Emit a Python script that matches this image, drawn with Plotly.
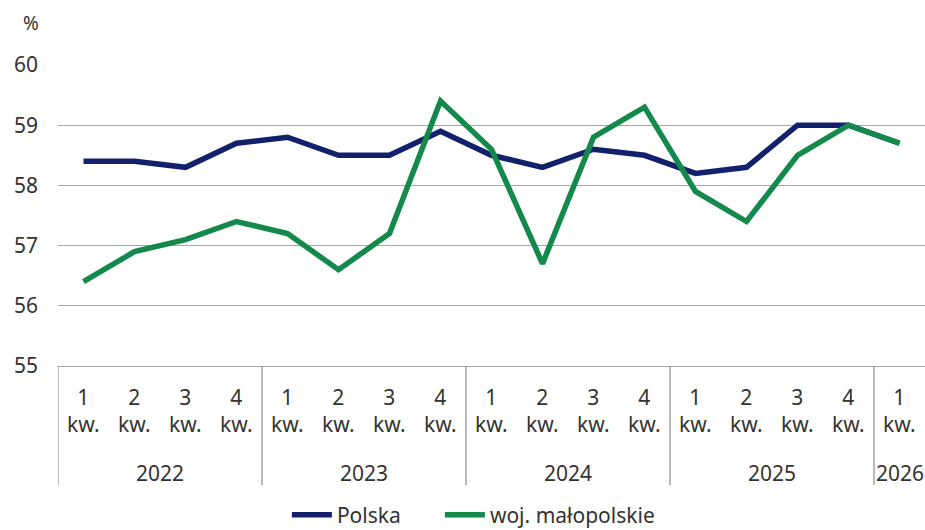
import plotly.graph_objects as go

years = ["2022", "2022", "2022", "2022", "2023", "2023", "2023", "2023",
         "2024", "2024", "2024", "2024", "2025", "2025", "2025", "2025", "2026"]
quarters = ["1", "2", "3", "4", "1", "2", "3", "4", "1", "2", "3", "4",
            "1", "2", "3", "4", "1"]
polska = [58.4, 58.4, 58.3, 58.7, 58.8, 58.5, 58.5, 58.9, 58.5, 58.3, 58.6,
          58.5, 58.2, 58.3, 59.0, 59.0, 58.7]
malopolskie = [56.4, 56.9, 57.1, 57.4, 57.2, 56.6, 57.2, 59.4, 58.6, 56.7,
               58.8, 59.3, 57.9, 57.4, 58.5, 59.0, 58.7]
y_ticks = [55, 56, 57, 58, 59, 60]

FONT = "Noto Sans"
TXT = "#333333"
GRID = "#a6a6a6"
DIV = "#8c8c8c"
FS = 21

idx = list(range(len(quarters)))

fig = go.Figure()
fig.add_trace(go.Scatter(x=idx, y=polska, mode="lines", name="Polska",
                         legend="legend",
                         line=dict(color="#13206b", width=5.5)))
fig.add_trace(go.Scatter(x=idx, y=malopolskie, mode="lines", name="woj. małopolskie",
                         legend="legend2",
                         line=dict(color="#138a4b", width=5.5)))

annotations = []
for i, q in zip(idx, quarters):
    annotations.append(dict(x=i, y=0, xref="x", yref="paper", yanchor="middle",
                            yshift=-44, text=f"{q}<br>kw.", showarrow=False,
                            font=dict(family=FONT, size=FS, color=TXT)))

groups = []
for i, yv in enumerate(years):
    if not groups or groups[-1][0] != yv:
        groups.append([yv, i, i])
    else:
        groups[-1][2] = i

shapes = []
for yv, a, b in groups:
    annotations.append(dict(x=(a + b) / 2, y=0, xref="x", yref="paper",
                            yanchor="middle", yshift=-107, text=yv, showarrow=False,
                            font=dict(family=FONT, size=FS, color=TXT)))
    shapes.append(dict(type="line", xref="x", yref="paper", ysizemode="pixel",
                       yanchor=0, x0=a - 0.5, x1=a - 0.5, y0=0, y1=-119,
                       line=dict(color=DIV, width=1.2)))

annotations.append(dict(x=0, y=1, xref="paper", yref="paper", xanchor="right",
                        yanchor="middle", xshift=-17, yshift=42, text="%",
                        showarrow=False, font=dict(family=FONT, size=19, color=TXT)))

legend_common = dict(orientation="h", xanchor="left", y=-0.495, yanchor="middle",
                     font=dict(family=FONT, size=FS, color=TXT), itemwidth=40,
                     bgcolor="rgba(0,0,0,0)")

fig.update_layout(
    width=925, height=530,
    margin=dict(l=58, r=0, t=65, b=164, autoexpand=False),
    paper_bgcolor="white", plot_bgcolor="white",
    font=dict(family=FONT, size=FS, color=TXT),
    showlegend=True,
    legend=dict(x=0.264, **legend_common),
    legend2=dict(x=0.4405, **legend_common),
    annotations=annotations,
    shapes=shapes,
    xaxis=dict(range=[-0.5, 16.5], showticklabels=False, showgrid=False,
               zeroline=False, showline=True, linecolor=GRID, linewidth=1.2,
               ticks=""),
    yaxis=dict(range=[55, 60], tickvals=y_ticks, showgrid=True, gridcolor=GRID,
               gridwidth=1.2, zeroline=False, showline=False, ticks="",
               ticklabelstandoff=19, tickfont=dict(family=FONT, size=FS, color=TXT)),
)

fig.write_html("out.html",
               config={"displayModeBar": False},
               post_script="document.body.style.margin='0';"
                           "document.body.style.overflow='hidden';")
